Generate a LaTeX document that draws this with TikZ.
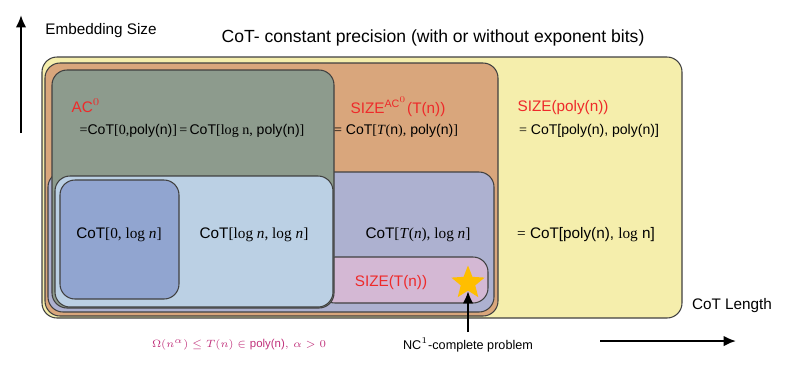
\documentclass[tikz,border=0pt]{standalone}
\usepackage{fontspec}
\setmainfont{Liberation Sans}
\newfontfamily\tms{Liberation Serif}
\usetikzlibrary{arrows.meta,shapes.geometric}

\definecolor{ylwfill}{HTML}{F5EEAC}
\definecolor{orgfill}{HTML}{D9A67C}
\definecolor{grnfill}{HTML}{8D9B8D}
\definecolor{purfill}{HTML}{ADB1D0}
\definecolor{pnkfill}{HTML}{D4B8D4}
\definecolor{lbfill}{HTML}{BBD0E4}
\definecolor{dbfill}{HTML}{91A5D0}
\definecolor{starcol}{HTML}{FFBE00}
\definecolor{lblred}{HTML}{EE2A2A}
\definecolor{lblmag}{HTML}{C0307A}

\newcommand{\tm}[1]{{\tms #1}}

\tikzset{
  region/.style={draw=black!75,line width=0.6pt,rounded corners=0.3cm},
  axis/.style={line width=1.2pt,-{Latex[length=7pt,width=6pt]}},
  cls/.style={text=lblred,font=\fontsize{8.7}{10}\selectfont},
  eqn/.style={font=\fontsize{8}{10}\selectfont},
  big/.style={font=\fontsize{8.7}{10}\selectfont},
}

\begin{document}
\begin{tikzpicture}[x=0.02cm,y=-0.02cm]
\useasboundingbox (0,0) rectangle (800,380);

% nested regions
\fill[region,fill=ylwfill] (42,57) rectangle (682,318);
\fill[region,fill=orgfill] (45,63) rectangle (498,316);
\fill[region,fill=purfill] (48,172) rectangle (494,312);
\fill[region,fill=pnkfill] (320,257) rectangle (488,303);
\fill[region,fill=grnfill] (52,70) rectangle (334,308);
\fill[region,fill=lbfill] (55,176) rectangle (333,307);
\fill[region,fill=dbfill] (60,180) rectangle (179,299);

% labels
\node[cls] (ac0) at (86,106) {AC$^0$};
\node[eqn] (ac0eq) at (192,131) {\tm{=}CoT\tm{[0,}poly(n)\tm{]\,=\,}CoT\tm{[log n,} poly(n)\tm{]}};
\node[cls] (sizeac) at (398,107) {SIZE$^{\mathrm{AC}^0}$(T(n))};
\node[eqn] (sizeaceq) at (396,131) {\tm{=} CoT\tm{[}\tm{\textit{T}(}n\tm{),} poly(n)\tm{]}};
\node[cls] (sizepoly) at (563,108) {SIZE(poly(n))};
\node[eqn] (sizepolyeq) at (589,131) {\tm{=} CoT[poly(n), poly(n)]};
\node[big] (czero) at (119,235) {CoT\tm{[0, log \textit{n}]}};
\node[big] (clog) at (254,235) {CoT\tm{[log \textit{n}, log \textit{n}]}};
\node[big] (ct) at (418,235) {CoT\tm{[\textit{T}(\textit{n}), log \textit{n}]}};
\node[big] (cpoly) at (586,235) {\tm{=} CoT[poly(n), \tm{log} n]};
\node[cls] (sizet) at (391,283) {SIZE(T(n))};
\node[star,star points=5,star point ratio=2.3,fill=starcol,minimum size=0.7cm,inner sep=0pt] (nc) at (468,283) {};

% axes and captions
\node[font=\fontsize{8.7}{10}\selectfont] (ylab) at (101,31) {Embedding Size};
\node[font=\fontsize{10}{12}\selectfont] (title) at (433,38) {CoT- constant precision (with or without exponent bits)};
\node[font=\fontsize{8.7}{10}\selectfont] (xlab) at (732,306) {CoT Length};
\node[font=\fontsize{7.2}{9}\selectfont] (nclab) at (468,345) {NC$^1$-complete problem};
\node[text=lblmag,font=\fontsize{6.5}{8}\selectfont] (tlab) at (239,345) {$\Omega(n^\alpha)\le T(n)\in{}$poly(n)$,\,\alpha>0$};
\coordinate (ylow) at (21,133);
\coordinate (yhigh) at (21,15);
\coordinate (xlow) at (600,341);
\coordinate (xhigh) at (736,341);
\draw[axis] (ylow) -- (yhigh);
\draw[axis] (xlow) -- (xhigh);
\draw[axis] (nclab.north) -- (nc.south);

\end{tikzpicture}
\end{document}
